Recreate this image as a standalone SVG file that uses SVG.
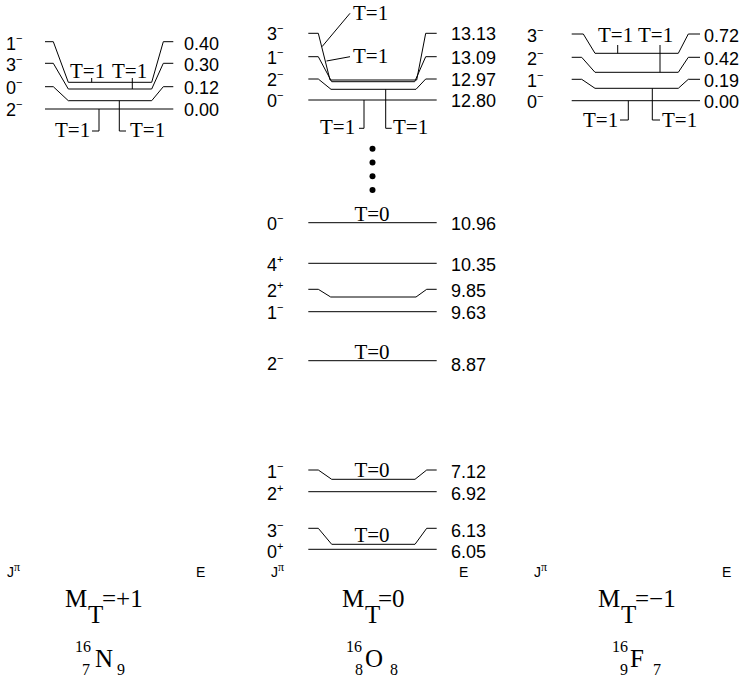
<svg xmlns="http://www.w3.org/2000/svg" width="748" height="682" viewBox="0 0 748 682">
<style>
.lv{fill:none;stroke:#000;stroke-width:1}
.cn{fill:none;stroke:#000;stroke-width:1}
.j,.e{font-family:"Liberation Sans",Arial,sans-serif;font-size:18px;fill:#000}
.s{font-size:11px}
.t{font-family:"Liberation Serif","Times New Roman",serif;font-size:21px;fill:#000}
.jp{font-family:"Liberation Sans",Arial,sans-serif;font-size:14px;fill:#000}
.pi{font-family:"Liberation Serif",serif;font-size:12px}
.m{font-family:"Liberation Serif","Times New Roman",serif;font-size:25px;fill:#000}
.n{font-family:"Liberation Serif","Times New Roman",serif;font-size:16px;fill:#000}
</style>
<rect width="748" height="682" fill="#fff"/>

<!-- 16N panel -->
<g id="n16-1m"><polyline class="lv" points="45,41.7 53.3,41.7 68.3,82.3 151.7,82.3 163.3,41.7 173.3,41.7"/>
<text class="j" x="6" y="49.5">1<tspan class="s" dy="-8">−</tspan></text><text class="e" x="184" y="49.5">0.40</text></g>
<g id="n16-3m"><polyline class="lv" points="45,63.3 53.3,63.3 68.3,89 151.7,89 163.3,63.3 173.3,63.3"/>
<text class="j" x="6" y="71">3<tspan class="s" dy="-8">−</tspan></text><text class="e" x="184" y="71">0.30</text></g>
<g id="n16-0m"><polyline class="lv" points="45,86.7 53.3,86.7 68.3,100.7 151.7,100.7 163.3,86.7 173.3,86.7"/>
<text class="j" x="6" y="94">0<tspan class="s" dy="-8">−</tspan></text><text class="e" x="184" y="94">0.12</text></g>
<g id="n16-2m"><line class="lv" x1="45" y1="109" x2="173.3" y2="109"/>
<text class="j" x="6" y="116">2<tspan class="s" dy="-8">−</tspan></text><text class="e" x="184" y="116">0.00</text></g>
<g id="n16-tlabels">
<text class="t" x="70" y="78">T=1</text><text class="t" x="112" y="78">T=1</text>
<text class="t" x="55" y="136.7">T=1</text><text class="t" x="130" y="136.7">T=1</text>
</g>

<!-- 16O panel -->
<g id="o16-3m"><polyline class="lv" points="308.3,33.3 318.3,33.3 330,80 416.7,80 425.7,33.3 436.7,33.3"/>
<text class="j" x="267" y="40.3">3<tspan class="s" dy="-8">−</tspan></text><text class="e" x="451" y="40.3">13.13</text></g>
<g id="o16-1m-a"><polyline class="lv" points="308.3,56.7 318.3,56.7 331.7,81.7 414.7,81.7 425.7,56.7 436.7,56.7"/>
<text class="j" x="267" y="63.7">1<tspan class="s" dy="-8">−</tspan></text><text class="e" x="451" y="63.7">13.09</text></g>
<g id="o16-2m-a"><polyline class="lv" points="308.3,79 318.3,79 331,89.3 416,89.3 425.7,79 436.7,79"/>
<text class="j" x="267" y="86">2<tspan class="s" dy="-8">−</tspan></text><text class="e" x="451" y="86">12.97</text></g>
<g id="o16-0m-a"><line class="lv" x1="308.3" y1="100" x2="436.7" y2="100"/>
<text class="j" x="267" y="107">0<tspan class="s" dy="-8">−</tspan></text><text class="e" x="451" y="107">12.80</text></g>
<g id="o16-tlabels">
<text class="t" x="353" y="20">T=1</text><text class="t" x="353" y="63">T=1</text>
<text class="t" x="320" y="133.5">T=1</text><text class="t" x="393" y="133.5">T=1</text>
</g>
<g id="o16-dots">
<circle cx="372.5" cy="148.7" r="3"/><circle cx="372.5" cy="162.5" r="3"/><circle cx="372.5" cy="176.2" r="3"/><circle cx="372.5" cy="190" r="3"/>
</g>
<g id="o16-0m-b"><line class="lv" x1="308.3" y1="222.7" x2="436.7" y2="222.7"/>
<text class="j" x="267" y="230">0<tspan class="s" dy="-8">−</tspan></text><text class="e" x="451" y="230">10.96</text>
<text class="t" x="372" y="220.5" text-anchor="middle">T=0</text></g>
<g id="o16-4p"><line class="lv" x1="308.3" y1="263.3" x2="436.7" y2="263.3"/>
<text class="j" x="267" y="270.5">4<tspan class="s" dy="-8">+</tspan></text><text class="e" x="451" y="270.5">10.35</text></g>
<g id="o16-2p-a"><polyline class="lv" points="308.3,289.3 318.3,289.3 330.7,297 416,297 426.7,289.3 436.7,289.3"/>
<text class="j" x="267" y="297">2<tspan class="s" dy="-8">+</tspan></text><text class="e" x="451" y="297">9.85</text></g>
<g id="o16-1m-b"><line class="lv" x1="308.3" y1="311.7" x2="436.7" y2="311.7"/>
<text class="j" x="267" y="319">1<tspan class="s" dy="-8">−</tspan></text><text class="e" x="451" y="319">9.63</text></g>
<g id="o16-2m-b"><line class="lv" x1="308.3" y1="360.7" x2="436.7" y2="360.7"/>
<text class="j" x="267" y="370">2<tspan class="s" dy="-8">−</tspan></text><text class="e" x="451" y="371">8.87</text>
<text class="t" x="372" y="358.5" text-anchor="middle">T=0</text></g>
<g id="o16-1m-c"><polyline class="lv" points="308.3,470 318.3,470 331.7,479.3 415,479.3 426.7,470 436.7,470"/>
<text class="j" x="267" y="478">1<tspan class="s" dy="-8">−</tspan></text><text class="e" x="451" y="478">7.12</text>
<text class="t" x="372" y="477" text-anchor="middle">T=0</text></g>
<g id="o16-2p-b"><line class="lv" x1="308.3" y1="491.7" x2="436.7" y2="491.7"/>
<text class="j" x="267" y="500">2<tspan class="s" dy="-8">+</tspan></text><text class="e" x="451" y="500">6.92</text></g>
<g id="o16-3m-b"><polyline class="lv" points="308.3,528.3 318.3,528.3 331.7,544.3 415,544.3 426.7,528.3 436.7,528.3"/>
<text class="j" x="267" y="536.5">3<tspan class="s" dy="-8">−</tspan></text><text class="e" x="451" y="536.5">6.13</text>
<text class="t" x="372" y="541.7" text-anchor="middle">T=0</text></g>
<g id="o16-0p"><line class="lv" x1="308.3" y1="549.3" x2="436.7" y2="549.3"/>
<text class="j" x="267" y="558">0<tspan class="s" dy="-8">+</tspan></text><text class="e" x="451" y="558">6.05</text></g>

<!-- 16F panel -->
<g id="f16-3m"><polyline class="lv" points="571.7,34 583.3,34 595,53.3 678.3,53.3 688.3,34 700,34"/>
<text class="j" x="527" y="41.5">3<tspan class="s" dy="-8">−</tspan></text><text class="e" x="704" y="41.5">0.72</text></g>
<g id="f16-2m"><polyline class="lv" points="571.7,57.3 581.7,57.3 595,72.3 678.3,72.3 688.3,57.3 700,57.3"/>
<text class="j" x="527" y="64.5">2<tspan class="s" dy="-8">−</tspan></text><text class="e" x="704" y="64.5">0.42</text></g>
<g id="f16-1m"><polyline class="lv" points="571.7,79.3 581.7,79.3 595,88.3 678.3,88.3 688.3,79.3 700,79.3"/>
<text class="j" x="527" y="86.5">1<tspan class="s" dy="-8">−</tspan></text><text class="e" x="704" y="86.5">0.19</text></g>
<g id="f16-0m"><line class="lv" x1="571.7" y1="100.7" x2="700" y2="100.7"/>
<text class="j" x="527" y="108">0<tspan class="s" dy="-8">−</tspan></text><text class="e" x="704" y="108">0.00</text></g>
<g id="f16-tlabels">
<text class="t" x="598" y="42">T=1</text><text class="t" x="638" y="42">T=1</text>
<text class="t" x="583" y="126.5">T=1</text><text class="t" x="662" y="126.5">T=1</text>
</g>

<!-- connectors (isospin label leaders) -->
<g id="connectors">
<line class="cn" x1="91.7" y1="78" x2="91.7" y2="82.3"/>
<line class="cn" x1="132.3" y1="78" x2="132.3" y2="89"/>
<polyline class="cn" points="99,109 99,131 92,131"/>
<polyline class="cn" points="119.3,100.7 119.3,131 126,131"/>
<line class="cn" x1="350" y1="13.3" x2="322" y2="46.7"/>
<line class="cn" x1="350" y1="56.7" x2="326.5" y2="61"/>
<polyline class="cn" points="364,100 364,128.3 359,128.3"/>
<polyline class="cn" points="385.7,89.3 385.7,128.3 391.7,128.3"/>
<line class="cn" x1="617.7" y1="45" x2="617.7" y2="53.3"/>
<line class="cn" x1="660" y1="45" x2="660" y2="72.3"/>
<polyline class="cn" points="628.3,100.7 628.3,120 620,120"/>
<polyline class="cn" points="652.3,88.3 652.3,120 660,120"/>
</g>

<!-- axis captions -->
<g id="captions">
<text class="jp" x="7" y="577">J<tspan class="pi" dy="-6">π</tspan></text><text class="jp" x="196" y="577">E</text>
<text class="jp" x="271" y="577">J<tspan class="pi" dy="-6">π</tspan></text><text class="jp" x="459" y="577">E</text>
<text class="jp" x="534" y="577">J<tspan class="pi" dy="-6">π</tspan></text><text class="jp" x="722" y="577">E</text>
</g>

<g id="mt-labels">
<text class="m"><tspan x="65" y="607">M</tspan><tspan x="88" y="623">T</tspan><tspan x="102" y="607">=+1</tspan></text>
<text class="m"><tspan x="342" y="607">M</tspan><tspan x="365" y="623">T</tspan><tspan x="378" y="607">=0</tspan></text>
<text class="m"><tspan x="598" y="607">M</tspan><tspan x="621" y="623">T</tspan><tspan x="635" y="607">=−1</tspan></text>
</g>

<g id="nuclides">
<text class="n" x="75" y="652">16</text><text class="n" x="82" y="675">7</text><text class="m" x="95" y="667">N</text><text class="n" x="117" y="675">9</text>
<text class="n" x="346" y="652">16</text><text class="n" x="355" y="675">8</text><text class="m" x="365" y="667">O</text><text class="n" x="390" y="675">8</text>
<text class="n" x="612" y="652">16</text><text class="n" x="620" y="675">9</text><text class="m" x="630" y="667">F</text><text class="n" x="653" y="675">7</text>
</g>
</svg>
